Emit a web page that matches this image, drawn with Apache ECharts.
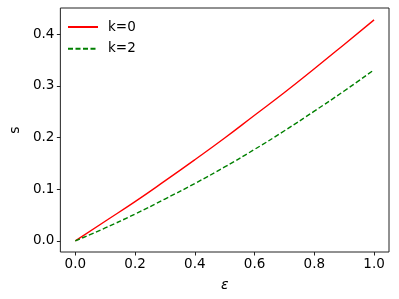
<!DOCTYPE html>
<html>
<head>
<meta charset="utf-8">
<script src="https://cdn.jsdelivr.net/npm/echarts@6/dist/echarts.min.js"></script>
<style>
  html, body { margin: 0; padding: 0; background: #fff; }
  #chart { width: 399px; height: 299px; }
</style>
</head>
<body>
<div id="chart"></div>
<script>
// values
var eps = [0, 0.1, 0.2, 0.3, 0.4, 0.5, 0.6, 0.7, 0.8, 0.9, 1.0];
var sK0 = [0, 0.038, 0.076, 0.116, 0.157, 0.199, 0.243, 0.287, 0.333, 0.380, 0.4275];
var sK2 = [0, 0.025, 0.052, 0.081, 0.111, 0.143, 0.177, 0.213, 0.251, 0.290, 0.331];
var xTicks = [0, 0.2, 0.4, 0.6, 0.8, 1.0];
var yTicks = [0, 0.1, 0.2, 0.3, 0.4];
var names = ['k=0', 'k=2'];

function pairs(xs, ys) {
  return xs.map(function (x, i) { return [x, ys[i]]; });
}

var font = 'DejaVu Sans';
var myChart = echarts.init(document.getElementById('chart'));

var option = {
  animation: false,
  textStyle: { fontFamily: font },
  grid: {
    left: 56, right: 10, top: 8, bottom: 47,
    show: true, borderColor: '#222', borderWidth: 1, backgroundColor: 'transparent'
  },
  legend: {
    orient: 'vertical',
    left: 62, top: 15,
    itemWidth: 30, itemHeight: 14, itemGap: 7.7,
    itemStyle: { opacity: 0 },
    textStyle: { fontSize: 13.5, color: '#000', fontFamily: font, padding: [0, 0, 0, 5] },
    data: names
  },
  xAxis: {
    type: 'value',
    min: -0.05, max: 1.05,
    name: 'ε', nameLocation: 'middle', nameGap: 26,
    nameTextStyle: { fontSize: 14, fontStyle: 'italic', color: '#000', fontFamily: font },
    splitLine: { show: false },
    axisLine: { show: false, onZero: false },
    axisTick: { show: true, inside: false, length: 3.5, customValues: xTicks, lineStyle: { color: '#222' } },
    axisLabel: {
      customValues: xTicks, fontSize: 13.5, color: '#000', margin: 5,
      formatter: function (v) { return v.toFixed(1); }
    }
  },
  yAxis: {
    type: 'value',
    min: -0.0215, max: 0.4505,
    name: 's', nameLocation: 'middle', nameGap: 38,
    nameTextStyle: { fontSize: 14, color: '#000', fontFamily: font },
    splitLine: { show: false },
    axisLine: { show: false, onZero: false },
    axisTick: { show: true, inside: false, length: 3.5, customValues: yTicks, lineStyle: { color: '#222' } },
    axisLabel: {
      customValues: yTicks, fontSize: 13.5, color: '#000', margin: 6,
      formatter: function (v) { return v.toFixed(1); }
    }
  },
  series: [
    {
      name: names[0],
      type: 'line',
      data: pairs(eps, sK0),
      smooth: true,
      symbol: 'none',
      color: '#ff0000',
      lineStyle: { width: 1.4, color: '#ff0000' }
    },
    {
      name: names[1],
      type: 'line',
      data: pairs(eps, sK2),
      smooth: true,
      symbol: 'none',
      color: '#008000',
      lineStyle: { width: 1.4, color: '#008000', type: [5, 2.5] }
    }
  ]
};
myChart.setOption(option);
</script>
</body>
</html>
